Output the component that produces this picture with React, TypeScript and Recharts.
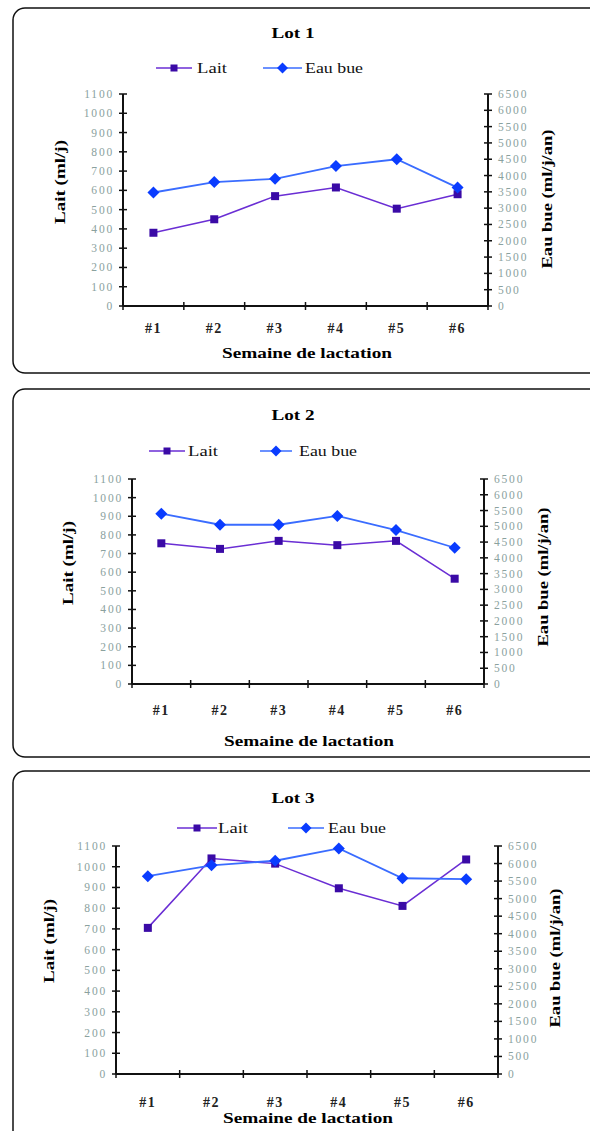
import { LineChart, Line, XAxis, YAxis } from 'recharts';

const weeks = ['#1', '#2', '#3', '#4', '#5', '#6'];
const laitTicks = [0, 100, 200, 300, 400, 500, 600, 700, 800, 900, 1000, 1100];
const eauTicks = [0, 500, 1000, 1500, 2000, 2500, 3000, 3500, 4000, 4500, 5000, 5500, 6000, 6500];

const lot1Lait = [380, 450, 570, 615, 505, 580];
const lot1Eau = [3480, 3800, 3900, 4290, 4500, 3630];
const lot2Lait = [755, 725, 768, 745, 768, 565];
const lot2Eau = [5400, 5050, 5050, 5330, 4880, 4320];
const lot3Lait = [705, 1040, 1015, 896, 811, 1035];
const lot3Eau = [5640, 5950, 6080, 6430, 5580, 5555];

const FONT = '"Liberation Serif", "Times New Roman", serif';
const LAIT_LINE = '#6a2ed4';
const LAIT_DOT = '#3a0aa6';
const EAU_LINE = '#3a6cff';
const EAU_DOT = '#0a3cff';
const TICK_GREY = '#8aa19e';
const W = 590;
const AXIS_W = 60;
const X_H = 40;

type Layout = {
  title: string;
  top: number;
  height: number;
  boxTop: number;
  boxBottom: number;
  plot: { left: number; right: number; top: number; bottom: number };
  titleY: number;
  legendY: number;
  laitLine: [number, number];
  laitText: number;
  eauLine: [number, number];
  eauText: number;
  xLabelGap: number;
  xTitleY: number;
  xTitleX: number;
  leftTitle: [number, number];
  rightTitle: [number, number];
  lait: number[];
  eau: number[];
};

const panels: Layout[] = [
  {
    title: 'Lot 1', top: 0, height: 380, boxTop: 8, boxBottom: 373,
    plot: { left: 123, right: 488, top: 94, bottom: 306 },
    titleY: 33, legendY: 68,
    laitLine: [156, 192], laitText: 197, eauLine: [263, 302], eauText: 305,
    xLabelGap: 22, xTitleY: 353, xTitleX: 307,
    leftTitle: [60, 182], rightTitle: [547, 199],
    lait: lot1Lait, eau: lot1Eau,
  },
  {
    title: 'Lot 2', top: 380, height: 380, boxTop: 389, boxBottom: 757,
    plot: { left: 132, right: 484, top: 479, bottom: 684 },
    titleY: 415, legendY: 451,
    laitLine: [149, 185], laitText: 188, eauLine: [260, 292], eauText: 299,
    xLabelGap: 26, xTitleY: 741, xTitleX: 309,
    leftTitle: [68, 563], rightTitle: [543, 577],
    lait: lot2Lait, eau: lot2Eau,
  },
  {
    title: 'Lot 3', top: 760, height: 371, boxTop: 771, boxBottom: 1160,
    plot: { left: 116, right: 498, top: 846, bottom: 1074 },
    titleY: 798, legendY: 828,
    laitLine: [177, 217], laitText: 218, eauLine: [288, 324], eauText: 328,
    xLabelGap: 28, xTitleY: 1118, xTitleX: 308,
    leftTitle: [49, 941], rightTitle: [555, 958],
    lait: lot3Lait, eau: lot3Eau,
  },
];

const Square = ({ cx, cy, size, fill }: any) => (
  <rect x={cx - size / 2} y={cy - size / 2} width={size} height={size} fill={fill} />
);

const Diamond = ({ cx, cy, size, fill }: any) => {
  const r = size / 2;
  return <path d={`M${cx},${cy - r} L${cx + r},${cy} L${cx},${cy + r} L${cx - r},${cy} Z`} fill={fill} />;
};

// y ticks drawn as Excel-style crossing marks with spaced grey digits
const leftTick = (props: any) => {
  const { x, y, payload } = props;
  return (
    <g>
      <line x1={x - 4} x2={x + 4} y1={y} y2={y} stroke="#111" strokeWidth={1.5} />
      <text x={x - 9} y={y + 4} textAnchor="end" fontFamily={FONT} fontSize={11.5} letterSpacing={1.8} fill={TICK_GREY}>
        {payload.value}
      </text>
    </g>
  );
};

const rightTick = (props: any) => {
  const { x, y, payload } = props;
  return (
    <g>
      <line x1={x - 4} x2={x + 4} y1={y} y2={y} stroke="#111" strokeWidth={1.5} />
      <text x={x + 10} y={y + 4} textAnchor="start" fontFamily={FONT} fontSize={11.5} letterSpacing={1.8} fill={TICK_GREY}>
        {payload.value}
      </text>
    </g>
  );
};

const makeXTick = (bw: number, gap: number) => (props: any) => {
  const { x, y, payload } = props;
  const i = weeks.indexOf(payload.value);
  return (
    <g>
      <line x1={x - bw / 2} x2={x - bw / 2} y1={y - 4} y2={y + 4} stroke="#111" strokeWidth={1.5} />
      {i === weeks.length - 1 && (
        <line x1={x + bw / 2} x2={x + bw / 2} y1={y - 4} y2={y + 4} stroke="#111" strokeWidth={1.5} />
      )}
      <text x={x} y={y + gap + 5} textAnchor="middle" fontFamily={FONT} fontSize={14} fontWeight="bold" letterSpacing={1.5} fill="#222">
        {payload.value}
      </text>
    </g>
  );
};

function Decor({ p }: { p: Layout }) {
  const [lx1, lx2] = p.laitLine;
  const [ex1, ex2] = p.eauLine;
  return (
    <g fontFamily={FONT}>
      <rect x={13} y={p.boxTop} width={640} height={p.boxBottom - p.boxTop} rx={12} fill="none" stroke="#111" strokeWidth={1.5} />
      <text x={293} y={p.titleY + 5} textAnchor="middle" fontSize={15} fontWeight="bold" textLength={43} lengthAdjust="spacingAndGlyphs">
        {p.title}
      </text>
      <line x1={lx1} x2={lx2} y1={p.legendY} y2={p.legendY} stroke={LAIT_LINE} strokeWidth={1.5} />
      <Square cx={(lx1 + lx2) / 2} cy={p.legendY} size={7} fill={LAIT_DOT} />
      <text x={p.laitText} y={p.legendY + 5} fontSize={15} textLength={30} lengthAdjust="spacingAndGlyphs" fill="#111">
        Lait
      </text>
      <line x1={ex1} x2={ex2} y1={p.legendY} y2={p.legendY} stroke={EAU_LINE} strokeWidth={1.5} />
      <Diamond cx={(ex1 + ex2) / 2} cy={p.legendY} size={11} fill={EAU_DOT} />
      <text x={p.eauText} y={p.legendY + 5} fontSize={15} textLength={58} lengthAdjust="spacingAndGlyphs" fill="#111">
        Eau bue
      </text>
      <text x={p.xTitleX} y={p.xTitleY + 5} textAnchor="middle" fontSize={15} fontWeight="bold" textLength={170} lengthAdjust="spacingAndGlyphs">
        Semaine de lactation
      </text>
      <text
        transform={`translate(${p.leftTitle[0]},${p.leftTitle[1]}) rotate(-90)`}
        y={5}
        textAnchor="middle"
        fontSize={15}
        fontWeight="bold"
        textLength={84}
        lengthAdjust="spacingAndGlyphs"
      >
        Lait (ml/j)
      </text>
      <text
        transform={`translate(${p.rightTitle[0]},${p.rightTitle[1]}) rotate(-90)`}
        y={5}
        textAnchor="middle"
        fontSize={15}
        fontWeight="bold"
        textLength={139}
        lengthAdjust="spacingAndGlyphs"
      >
        Eau bue (ml/j/an)
      </text>
    </g>
  );
}

function Panel({ p }: { p: Layout }) {
  const data = weeks.map((w, i) => ({ week: w, lait: p.lait[i], eau: p.eau[i] }));
  const bw = (p.plot.right - p.plot.left) / weeks.length;
  const margin = {
    left: p.plot.left - AXIS_W,
    right: W - p.plot.right - AXIS_W,
    top: p.plot.top - p.top,
    bottom: p.top + p.height - p.plot.bottom - X_H,
  };
  return (
    <div style={{ position: 'absolute', left: 0, top: p.top }}>
      <LineChart width={W} height={p.height} data={data} margin={margin}>
        <XAxis
          dataKey="week"
          height={X_H}
          padding={{ left: bw / 2, right: bw / 2 }}
          interval={0}
          tickSize={0}
          tickMargin={0}
          tickLine={false}
          tick={makeXTick(bw, p.xLabelGap)}
          axisLine={{ stroke: '#111', strokeWidth: 2 }}
        />
        <YAxis
          yAxisId="left"
          width={AXIS_W}
          domain={[0, 1100]}
          ticks={laitTicks}
          interval={0}
          tickSize={0}
          tickMargin={0}
          tickLine={false}
          tick={leftTick}
          axisLine={{ stroke: '#111', strokeWidth: 2 }}
        />
        <YAxis
          yAxisId="right"
          orientation="right"
          width={AXIS_W}
          domain={[0, 6500]}
          ticks={eauTicks}
          interval={0}
          tickSize={0}
          tickMargin={0}
          tickLine={false}
          tick={rightTick}
          axisLine={{ stroke: '#111', strokeWidth: 2 }}
        />
        <Line
          yAxisId="left"
          dataKey="lait"
          stroke={LAIT_LINE}
          strokeWidth={1.5}
          isAnimationActive={false}
          dot={(d: any) => <Square key={`l${d.index}`} cx={d.cx} cy={d.cy} size={8} fill={LAIT_DOT} />}
        />
        <Line
          yAxisId="right"
          dataKey="eau"
          stroke={EAU_LINE}
          strokeWidth={1.8}
          isAnimationActive={false}
          dot={(d: any) => <Diamond key={`e${d.index}`} cx={d.cx} cy={d.cy} size={12} fill={EAU_DOT} />}
        />
      </LineChart>
    </div>
  );
}

export default function App() {
  return (
    <div style={{ position: 'absolute', left: 0, top: 0, width: W, height: 1131, overflow: 'hidden', background: '#fff' }}>
      <svg width={W} height={1131} style={{ position: 'absolute', left: 0, top: 0 }}>
        {panels.map((p) => (
          <Decor key={p.title} p={p} />
        ))}
      </svg>
      {panels.map((p) => (
        <Panel key={p.title} p={p} />
      ))}
    </div>
  );
}
